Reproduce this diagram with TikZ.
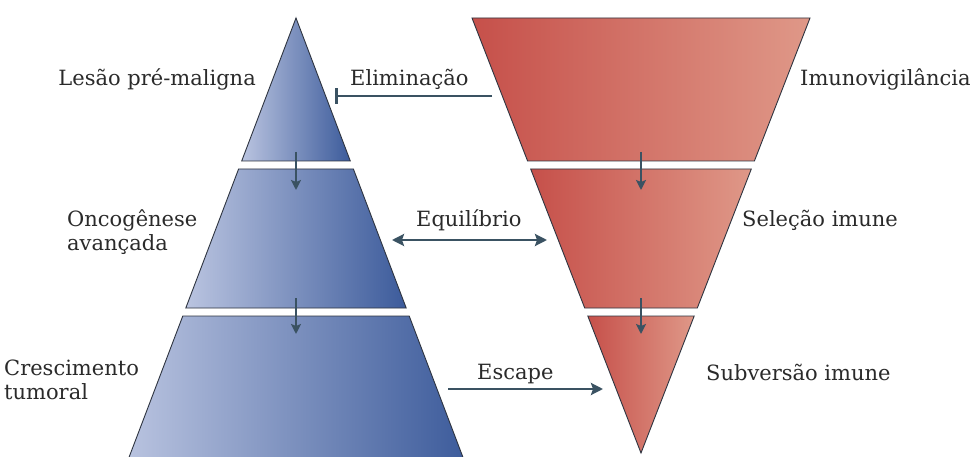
\documentclass[tikz,border=0pt]{standalone}
\usepackage{fontspec}
\setmainfont{DejaVu Serif}
\usetikzlibrary{arrows.meta}
\definecolor{txt}{HTML}{2A2A2A}
\definecolor{arr}{HTML}{3A5262}
\definecolor{bluelight}{HTML}{BAC4E0}
\definecolor{bluedark}{HTML}{3C5B9B}
\definecolor{reddark}{HTML}{C6504A}
\definecolor{redlight}{HTML}{DF9888}
\definecolor{edge}{HTML}{2E3440}
\begin{document}
\begin{tikzpicture}[x=1pt,y=-1pt,
  bluepart/.style={left color=bluelight,right color=bluedark,draw=edge,line width=0.9pt},
  redpart/.style={left color=reddark,right color=redlight,draw=edge,line width=0.9pt},
  lbl/.style={font=\fontsize{21}{24}\selectfont,text=txt,inner sep=0pt,align=left},
  conn/.style={draw=arr,line width=2.5pt,-{Stealth[length=12pt,width=12pt,inset=2pt]}},
  dconn/.style={draw=arr,line width=2.5pt,{Stealth[length=12pt,width=12pt,inset=2pt]}-{Stealth[length=12pt,width=12pt,inset=2pt]}},
  inhib/.style={draw=arr,line width=2.5pt,-{Bar[width=16pt]}},
  vconn/.style={draw=arr,line width=2.4pt,-{Stealth[length=10pt,width=10pt,inset=2pt]}}]
\useasboundingbox (0,0) rectangle (975,457);
\fill[white] (0,0) rectangle (975,457);

% blue pyramid (center 296, apex y=18, slope 0.38)
\path[bluepart] (296,18) -- (350.3,161) -- (241.7,161) -- cycle;
\path[bluepart] (238.6,169) -- (353.4,169) -- (406.2,308) -- (185.8,308) -- cycle;
\path[bluepart] (182.8,316) -- (409.2,316) -- (467.8,470) -- (124.2,470) -- cycle;

% red inverted pyramid (center 641, top y=18, apex y=453)
\path[redpart] (472,18) -- (810,18) -- (754.4,161) -- (527.6,161) -- cycle;
\path[redpart] (530.7,169) -- (751.3,169) -- (697.3,308) -- (584.7,308) -- cycle;
\path[redpart] (587.8,316) -- (694.2,316) -- (641,453) -- cycle;

% coordinates for connectors
\coordinate (b1s) at (296,152);
\coordinate (b1e) at (296,190);
\coordinate (b2s) at (296,298);
\coordinate (b2e) at (296,334);
\coordinate (r1s) at (641,152);
\coordinate (r1e) at (641,190);
\coordinate (r2s) at (641,298);
\coordinate (r2e) at (641,334);
\coordinate (elimS) at (492,96);
\coordinate (elimE) at (335,96);
\coordinate (eqL) at (392,240);
\coordinate (eqR) at (547,240);
\coordinate (escS) at (448,389);
\coordinate (escE) at (603,389);

\draw[vconn] (b1s) -- (b1e);
\draw[vconn] (b2s) -- (b2e);
\draw[vconn] (r1s) -- (r1e);
\draw[vconn] (r2s) -- (r2e);
\draw[inhib] (elimS) -- (elimE);
\draw[dconn] (eqL) -- (eqR);
\draw[conn] (escS) -- (escE);

% labels
\node[lbl,anchor=base east] (lesao) at (256,86) {Lesão pré-maligna};
\node[lbl,anchor=base west] (elim) at (350,86) {Eliminação};
\node[lbl,anchor=base west] (imuno) at (800,86) {Imunovigilância};
\node[lbl,anchor=base west] (onco) at (67,227) {Oncogênese};
\node[lbl,anchor=base west] (avanc) at (67,251) {avançada};
\node[lbl,anchor=base west] (equil) at (416,227) {Equilíbrio};
\node[lbl,anchor=base west] (selec) at (742,227) {Seleção imune};
\node[lbl,anchor=base west] (cresc) at (4,375) {Crescimento};
\node[lbl,anchor=base west] (tumor) at (4,399) {tumoral};
\node[lbl,anchor=base west] (escape) at (477,379) {Escape};
\node[lbl,anchor=base west] (subv) at (706,380) {Subversão imune};
\end{tikzpicture}
\end{document}
